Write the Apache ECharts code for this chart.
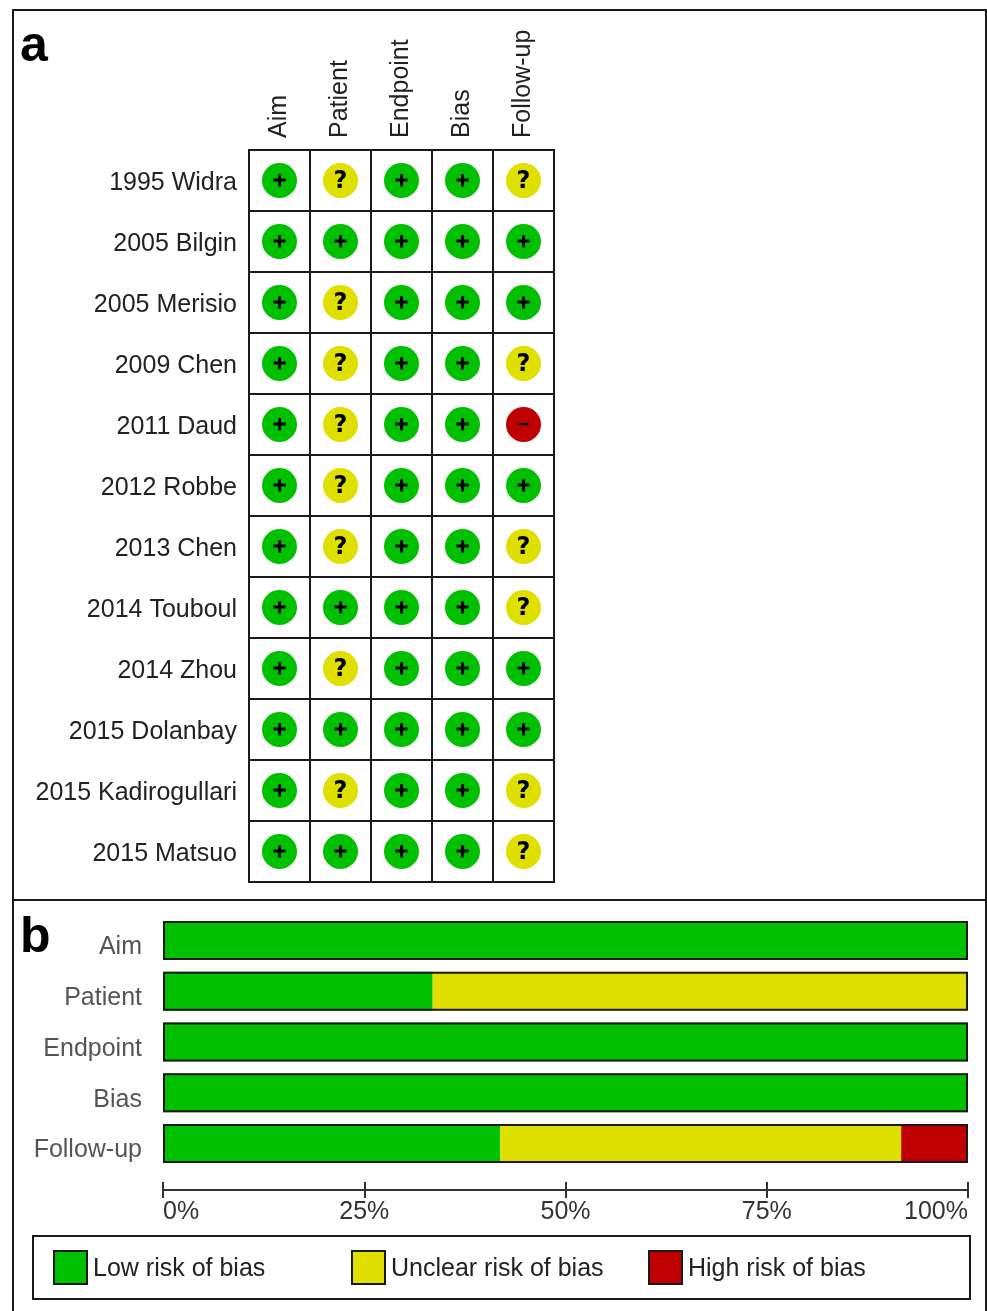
<!DOCTYPE html>
<html>
<head>
<meta charset="utf-8">
<title>Risk of bias</title>
<script src="https://cdn.jsdelivr.net/npm/echarts@6/dist/echarts.min.js"></script>
<style>
    html, body { margin: 0; padding: 0; background: #fff; }
    #main { width: 987px; height: 1311px; }
</style>
</head>
<body>
<div id="main"></div>
<script>
    var studies = ['1995 Widra', '2005 Bilgin', '2005 Merisio', '2009 Chen', '2011 Daud', '2012 Robbe',
        '2013 Chen', '2014 Touboul', '2014 Zhou', '2015 Dolanbay', '2015 Kadirogullari', '2015 Matsuo'];
    var domains = ['Aim', 'Patient', 'Endpoint', 'Bias', 'Follow-up'];
    var percentTicks = ['0%', '25%', '50%', '75%', '100%'];

    // judgement of each study, same order as studies
    var aimJudged      = ['+', '+', '+', '+', '+', '+', '+', '+', '+', '+', '+', '+'];
    var patientJudged  = ['?', '+', '?', '?', '?', '?', '?', '+', '?', '+', '?', '+'];
    var endpointJudged = ['+', '+', '+', '+', '+', '+', '+', '+', '+', '+', '+', '+'];
    var biasJudged     = ['+', '+', '+', '+', '+', '+', '+', '+', '+', '+', '+', '+'];
    var followUpJudged = ['?', '+', '+', '?', '-', '+', '?', '?', '+', '+', '?', '?'];

    // share of studies per domain, same order as domains
    var lowShare     = [100, 33.5, 100, 100, 41.9];
    var unclearShare = [0, 66.5, 0, 0, 49.8];
    var highShare    = [0, 0, 0, 0, 8.3];
    var fullShare    = [100, 100, 100, 100, 100];

    var GREEN = '#00c000', YELLOW = '#e0e000', RED = '#c00000', INK = '#1a1a1a';
    var FONT = '"Liberation Sans", Arial, sans-serif';

    var judged = [aimJudged, patientJudged, endpointJudged, biasJudged, followUpJudged];

    function cellsFor(mark) {
        var cells = [];
        judged.forEach(function (col, c) {
            col.forEach(function (v, r) {
                if (v === mark) cells.push([domains[c], studies[r]]);
            });
        });
        return cells;
    }

    function cellSeries(name, mark, text, color) {
        return {
            name: name,
            type: 'scatter',
            xAxisIndex: 0,
            yAxisIndex: 0,
            symbolSize: 35,
            itemStyle: { color: color, opacity: 1 },
            label: {
                show: true,
                position: 'inside',
                offset: [0, 1],
                formatter: text,
                color: '#000',
                fontFamily: '"DejaVu Sans", sans-serif',
                fontWeight: 'bold',
                fontSize: mark === '?' ? 24 : 18,
                textBorderColor: '#000',
                textBorderWidth: mark === '+' ? 1 : 0
            },
            data: cellsFor(mark)
        };
    }

    function barSeries(name, values, color) {
        return {
            name: name,
            type: 'bar',
            stack: 'share',
            xAxisIndex: 1,
            yAxisIndex: 1,
            barWidth: 39,
            itemStyle: { color: color },
            data: values
        };
    }

    function legendItem(name, left) {
        return {
            data: [name],
            left: left,
            top: 1250,
            padding: 0,
            icon: 'rect',
            itemWidth: 33,
            itemHeight: 33,
            itemGap: 0,
            selectedMode: false,
            itemStyle: { borderColor: INK, borderWidth: 2 },
            formatter: '{s|{name}}',
            textStyle: {
                padding: [4, 0, 0, 1],
                rich: { s: { fontFamily: FONT, fontSize: 25, color: '#222' } }
            }
        };
    }

    var chart = echarts.init(document.getElementById('main'), null, { renderer: 'canvas' });

    chart.setOption({
        animation: false,
        backgroundColor: '#fff',
        title: [
            { text: 'a', left: 20, top: 22, padding: 0, textStyle: { fontFamily: FONT, fontWeight: 'bold', fontSize: 50, color: '#000' } },
            { text: 'b', left: 20, top: 913, padding: 0, textStyle: { fontFamily: FONT, fontWeight: 'bold', fontSize: 50, color: '#000' } }
        ],
        legend: [
            legendItem('Low risk of bias', 53),
            legendItem('Unclear risk of bias', 351),
            legendItem('High risk of bias', 648)
        ],
        grid: [
            { left: 249, top: 150, width: 305, height: 732, show: true, borderColor: INK, borderWidth: 2, backgroundColor: '#fff' },
            { left: 163, top: 915, width: 805, height: 254, show: false }
        ],
        xAxis: [
            {
                type: 'category', gridIndex: 0, position: 'top', data: domains,
                axisLine: { lineStyle: { color: INK, width: 2 } },
                axisTick: { show: false },
                splitLine: { show: true, interval: 0, lineStyle: { color: INK, width: 2 } },
                axisLabel: { interval: 0, rotate: -90, margin: 12, fontFamily: FONT, fontSize: 25, color: '#222' }
            },
            {
                type: 'value', gridIndex: 1, position: 'bottom', offset: 21, min: 0, max: 100, interval: 25,
                axisLine: { show: true, lineStyle: { color: '#333', width: 2 } },
                axisTick: { show: true, length: 8, lineStyle: { color: '#333', width: 2 } },
                splitLine: { show: false },
                axisLabel: {
                    margin: 10, fontFamily: FONT, fontSize: 25, color: '#333',
                    alignMinLabel: 'left', alignMaxLabel: 'right',
                    formatter: function (v) { return percentTicks[v / 25]; }
                }
            },
            {
                // upper half of the ticks
                type: 'value', gridIndex: 1, position: 'bottom', offset: 21, min: 0, max: 100, interval: 25,
                axisLine: { show: false },
                axisTick: { show: true, inside: true, length: 8, lineStyle: { color: '#333', width: 2 } },
                splitLine: { show: false },
                axisLabel: { show: false }
            }
        ],
        yAxis: [
            {
                type: 'category', gridIndex: 0, inverse: true, data: studies,
                axisLine: { lineStyle: { color: INK, width: 2 } },
                axisTick: { show: false },
                splitLine: { show: true, interval: 0, lineStyle: { color: INK, width: 2 } },
                axisLabel: {
                    interval: 0, margin: 12, padding: [5, 0, 0, 0], formatter: '{s|{value}}',
                    rich: { s: { fontFamily: FONT, fontSize: 25, color: '#222' } }
                }
            },
            {
                type: 'category', gridIndex: 1, inverse: true, data: domains,
                axisLine: { show: false },
                axisTick: { show: false },
                splitLine: { show: false },
                axisLabel: {
                    interval: 0, margin: 21, padding: [14, 0, 0, 0], formatter: '{s|{value}}',
                    rich: { s: { fontFamily: FONT, fontSize: 25, color: '#555' } }
                }
            }
        ],
        series: [
            cellSeries('Low risk of bias', '+', '+', GREEN),
            cellSeries('Unclear risk of bias', '?', '?', YELLOW),
            cellSeries('High risk of bias', '-', '\u2212', RED),
            barSeries('Low risk of bias', lowShare, GREEN),
            barSeries('Unclear risk of bias', unclearShare, YELLOW),
            barSeries('High risk of bias', highShare, RED),
            {
                name: 'outline',
                type: 'bar',
                xAxisIndex: 1,
                yAxisIndex: 1,
                barWidth: 39,
                barGap: '-100%',
                z: 5,
                silent: true,
                itemStyle: { color: 'transparent', borderColor: INK, borderWidth: 2 },
                data: fullShare
            }
        ],
        graphic: [
            // panel frames
            { type: 'rect', silent: true, shape: { x: 13, y: 10, width: 973, height: 1310 }, style: { fill: 'none', stroke: INK, lineWidth: 2 } },
            { type: 'line', silent: true, shape: { x1: 13, y1: 900, x2: 986, y2: 900 }, style: { stroke: INK, lineWidth: 2 } },
            { type: 'rect', silent: true, shape: { x: 33, y: 1236, width: 937, height: 63 }, style: { fill: 'none', stroke: INK, lineWidth: 2 } }
        ]
    });
</script>
</body>
</html>
